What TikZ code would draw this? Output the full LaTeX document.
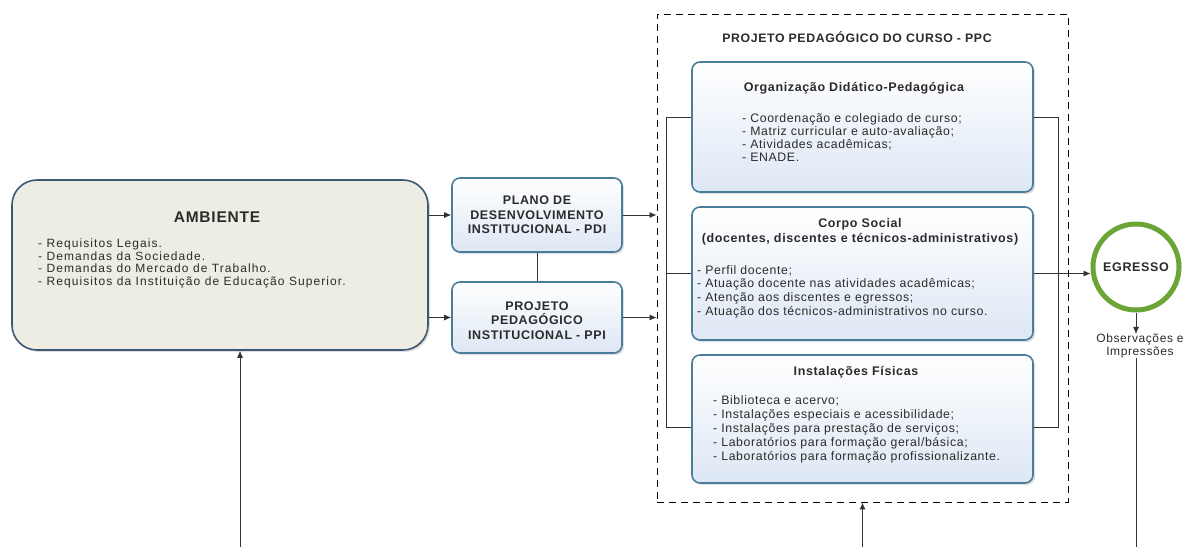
\documentclass[tikz,border=0pt]{standalone}
\usepackage{fontspec}
\setmainfont{Liberation Sans}[LetterSpace=5]
\usetikzlibrary{arrows.meta,shadows}
\definecolor{ambfill}{HTML}{EEEDE4}
\definecolor{ambline}{HTML}{3E5872}
\definecolor{boxline}{HTML}{4A7C9C}
\definecolor{boxfill}{HTML}{DDE7F4}
\definecolor{egrline}{HTML}{6AA535}
\definecolor{txt}{HTML}{2B2B2B}

\begin{document}
\begin{tikzpicture}[x=1pt,y=-1pt,
    shad/.style={drop shadow={opacity=0.25,shadow xshift=2pt,shadow yshift=-2pt}},
    bx/.style={draw=boxline,line width=1.6pt,rounded corners=8pt,top color=white,bottom color=boxfill,shad},
    tx/.style={inner sep=0pt,text=txt,align=left,font=\fontsize{12.3}{13.8}\selectfont},
    hd/.style={inner sep=0pt,text=txt,align=center,font=\bfseries\fontsize{12.5}{14.5}\selectfont},
    ln/.style={line width=0.8pt,draw=black!80},
    arr/.style={ln,-{Latex[length=7pt,width=6pt]}}]
    \useasboundingbox (0,0) rectangle (1186,547);
    \node[draw=ambline,line width=1.6pt,fill=ambfill,rounded corners=25pt,minimum width=416pt,minimum height=170pt,shad] (amb) at (220,265) {};
    \node[inner sep=0pt,text=txt,font=\bfseries\fontsize{15.5}{17}\selectfont] (ambtitle) at (217,217) {AMBIENTE};
    \node[tx,font=\fontsize{12}{12.4}\selectfont\addfontfeature{LetterSpace=9},anchor=north west] (ambtext) at (38,239) {- Requisitos Legais.\\- Demandas da Sociedade.\\- Demandas do Mercado de Trabalho.\\- Requisitos da Instituição de Educação Superior.};
    \node[bx,minimum width=170pt,minimum height=74pt] (pdi) at (537,215) {};
    \node[hd] at (pdi) {PLANO DE\\DESENVOLVIMENTO\\INSTITUCIONAL - PDI};
    \node[bx,minimum width=170pt,minimum height=71pt] (ppi) at (537,317.5) {};
    \node[hd] at ([yshift=-3pt]ppi.center) {PROJETO\\PEDAGÓGICO\\INSTITUCIONAL - PPI};
    \node[draw,line width=0.9pt,dash pattern=on 7pt off 5pt,minimum width=411pt,minimum height=488pt] (ppc) at (862.5,258) {};
    \node[hd,font=\bfseries\fontsize{12.3}{13}\selectfont] (ppctitle) at (857,37) {PROJETO PEDAGÓGICO DO CURSO - PPC};
    \node[bx,minimum width=341pt,minimum height=130pt] (org) at (862.5,127) {};
    \node[hd] (orgtitle) at (854,88) {Organização Didático-Pedagógica};
    \node[tx,font=\fontsize{12.3}{13.2}\selectfont,anchor=north west] (orgtext) at (742,113) {- Coordenação e colegiado de curso;\\- Matriz curricular e auto-avaliação;\\- Atividades acadêmicas;\\- ENADE.};
    \node[bx,minimum width=341pt,minimum height=133pt] (corpo) at (862.5,273.5) {};
    \node[hd] (corpotitle) at (860,232) {Corpo Social\\(docentes, discentes e técnicos-administrativos)};
    \node[tx,anchor=north west] (corpotext) at (697,265) {- Perfil docente;\\- Atuação docente nas atividades acadêmicas;\\- Atenção aos discentes e egressos;\\- Atuação dos técnicos-administrativos no curso.};
    \node[bx,minimum width=341pt,minimum height=128pt] (inst) at (862.5,419) {};
    \node[hd] (insttitle) at (856,372) {Instalações Físicas};
    \node[tx,font=\fontsize{12.3}{14.2}\selectfont,anchor=north west] (insttext) at (713,395) {- Biblioteca e acervo;\\- Instalações especiais e acessibilidade;\\- Instalações para prestação de serviços;\\- Laboratórios para formação geral/básica;\\- Laboratórios para formação profissionalizante.};
    \node[circle,draw=egrline,line width=5pt,fill=white,minimum size=86pt,shad] (egr) at (1136,267) {};
    \node[hd,font=\bfseries\fontsize{12.5}{13}\selectfont] at (egr) {EGRESSO};
    \node[tx,align=center,font=\fontsize{12}{12.5}\selectfont] (obs) at (1140,346) {Observações e\\Impressões};
    \coordinate (b1) at (240,547);
    \coordinate (b2) at (862.5,547);
    \coordinate (b3) at (1136,547);
    \draw[arr] (amb.east |- pdi.west) -- (pdi.west);
    \draw[arr] (amb.east |- ppi.west) -- (ppi.west);
    \draw[ln] (pdi.south) -- (ppi.north);
    \draw[arr] (pdi.east) -- (pdi.east -| ppc.west);
    \draw[arr] (ppi.east) -- (ppi.east -| ppc.west);
    \draw[ln] ([yshift=10pt]org.west) -- ++(-25,0) |- ([yshift=-8pt]inst.west);
    \draw[ln] (corpo.west) -- ++(-25,0);
    \draw[ln] ([yshift=10pt]org.east) -- ++(25,0) |- ([yshift=-8pt]inst.east);
    \draw[arr] (corpo.east) -- (corpo.east -| egr.west);
    \draw[arr] (egr.south) -- (egr.south |- obs.north);
    \draw[ln] (b3 |- obs.south) -- (b3);
    \draw[arr] (b1) -- (b1 |- amb.south);
    \draw[arr] (b2) -- (ppc.south);
\end{tikzpicture}
\end{document}
